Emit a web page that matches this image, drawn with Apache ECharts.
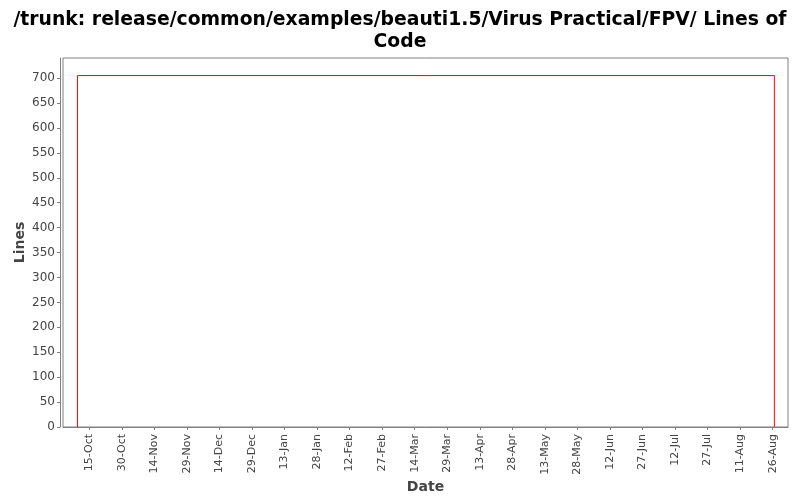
<!DOCTYPE html>
<html>
<head>
<meta charset="utf-8">
<script src="https://cdn.jsdelivr.net/npm/echarts@6/dist/echarts.min.js"></script>
<style>
  html, body { margin: 0; padding: 0; background: #fff; }
  #chart { width: 800px; height: 500px; }
</style>
</head>
<body>
<div id="chart"></div>
<script>
var chartTitle = '/trunk: release/common/examples/beauti1.5/Virus Practical/FPV/ Lines of\nCode';

// points of the line (date, lines)
var pointDates = ['2008-10-09 14:00', '2008-10-09 14:00', '2009-08-26 18:00', '2009-08-26 18:00'];
var pointLines = [0, 705, 705, 0];

// x axis ticks
var tickDates = ['2008-10-15', '2008-10-30', '2008-11-14', '2008-11-29', '2008-12-14', '2008-12-29',
    '2009-01-13', '2009-01-28', '2009-02-12', '2009-02-27', '2009-03-14', '2009-03-29',
    '2009-04-13', '2009-04-28', '2009-05-13', '2009-05-28', '2009-06-12', '2009-06-27',
    '2009-07-12', '2009-07-27', '2009-08-11', '2009-08-26'];
var monthNames = ['Jan', 'Feb', 'Mar', 'Apr', 'May', 'Jun', 'Jul', 'Aug', 'Sep', 'Oct', 'Nov', 'Dec'];

var axisMin = '2008-10-02 22:00';
var axisMax = '2009-09-02 01:00';

//parse as local time
function toTime(s) {
    var p = s.split(/[- :]/);
    return new Date(+p[0], +p[1] - 1, +p[2], +(p[3] || 0), +(p[4] || 0)).getTime();
}

var lineData = [];
for (var i = 0; i < pointDates.length; i++) {
    lineData.push([toTime(pointDates[i]), pointLines[i]]);
}
var tickValues = tickDates.map(toTime);

var myChart = echarts.init(document.getElementById('chart'));
var option = {
    animation: false,
    backgroundColor: '#fff',
    textStyle: {fontFamily: 'DejaVu Sans'},
    title: {
        text: chartTitle,
        left: 'center',
        top: 4,
        textStyle: {
            fontFamily: 'DejaVu Sans',
            fontSize: 18.8,
            fontWeight: 'bold',
            color: '#000',
            lineHeight: 22
        }
    },
    grid: {
        left: 63,
        right: 12,
        top: 58,
        bottom: 73,
        show: true,
        borderColor: '#808080',
        borderWidth: 1,
        backgroundColor: '#fff'
    },
    xAxis: {
        type: 'value',
        min: toTime(axisMin),
        max: toTime(axisMax),
        offset: 3,
        name: 'Date',
        nameLocation: 'middle',
        nameGap: 50,
        nameMoveOverlap: false,
        nameTextStyle: {fontSize: 14, fontWeight: 'bold', color: '#444'},
        axisLine: {lineStyle: {color: '#808080'}},
        axisTick: {show: true, length: 3, lineStyle: {color: '#808080'}, customValues: tickValues},
        splitLine: {show: false},
        axisLabel: {
            rotate: 90,
            fontSize: 11,
            color: '#444',
            margin: 4,
            customValues: tickValues,
            formatter: function (v) {
                var d = new Date(v);
                return d.getDate() + '-' + monthNames[d.getMonth()];
            }
        }
    },
    yAxis: {
        type: 'value',
        min: 0,
        max: 740.25,
        interval: 50,
        offset: 3,
        name: 'Lines',
        nameLocation: 'middle',
        nameGap: 33,
        nameMoveOverlap: false,
        nameTextStyle: {fontSize: 14, fontWeight: 'bold', color: '#444'},
        axisLine: {show: true, lineStyle: {color: '#808080'}},
        axisTick: {show: true, length: 3, lineStyle: {color: '#808080'}},
        splitLine: {show: false},
        axisLabel: {
            fontSize: 12,
            color: '#444',
            margin: 5,
            showMaxLabel: false
        }
    },
    series: [{
        type: 'line',
        data: lineData,
        symbol: 'none',
        lineStyle: {color: '#ff0000', width: 1},
        z: 3
    }]
};
myChart.setOption(option);
</script>
</body>
</html>
